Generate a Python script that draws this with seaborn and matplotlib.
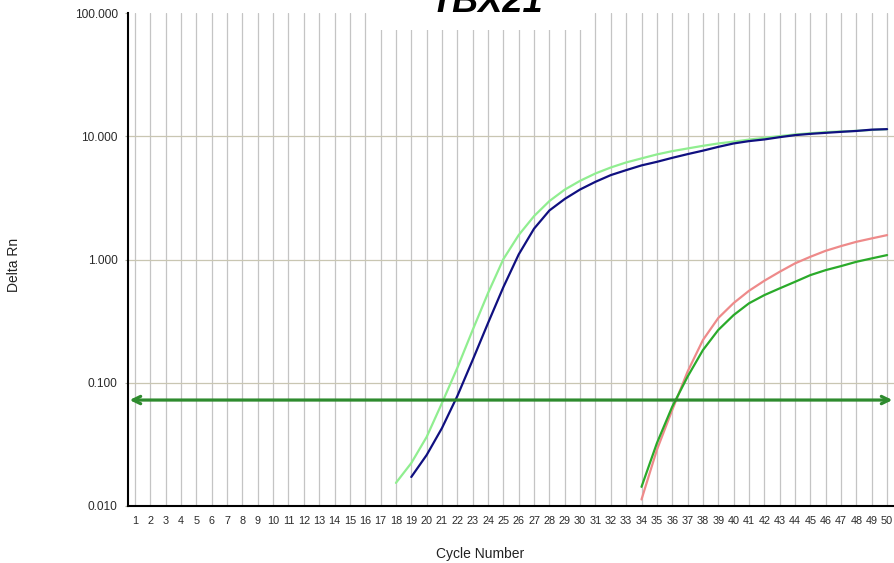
import matplotlib
matplotlib.use("Agg")
import matplotlib.pyplot as plt
from matplotlib.patches import Rectangle
import numpy as np
import pandas as pd
import seaborn as sns

# Amplification data (Delta Rn per cycle) for the TBX21 assay
cycles_a = list(range(18, 51))
delta_rn_a = [0.0154, 0.0223, 0.0363, 0.0685, 0.132, 0.268, 0.534, 1.007, 1.58, 2.25,
              2.98, 3.69, 4.35, 4.99, 5.58, 6.13, 6.61, 7.12, 7.57, 7.96,
              8.36, 8.74, 9.04, 9.39, 9.71, 10.02, 10.34, 10.58, 10.80, 10.94,
              11.06, 11.25, 11.42]

cycles_b = list(range(19, 51))
delta_rn_b = [0.0172, 0.0259, 0.0429, 0.0780, 0.153, 0.305, 0.597, 1.10, 1.78, 2.50,
              3.10, 3.70, 4.27, 4.84, 5.31, 5.80, 6.20, 6.68, 7.16, 7.64,
              8.20, 8.74, 9.13, 9.42, 9.83, 10.21, 10.46, 10.66, 10.86, 11.04,
              11.31, 11.42]

cycles_c = list(range(34, 51))
delta_rn_c = [0.0113, 0.0285, 0.0601, 0.123, 0.222, 0.335, 0.443, 0.557, 0.672, 0.795,
              0.930, 1.052, 1.177, 1.285, 1.392, 1.483, 1.577]

cycles_d = list(range(34, 51))
delta_rn_d = [0.0143, 0.0323, 0.0639, 0.112, 0.184, 0.268, 0.354, 0.441, 0.514, 0.583,
              0.659, 0.747, 0.820, 0.884, 0.958, 1.021, 1.086]

threshold = 0.0724

x_tick_values = list(range(1, 51))
y_tick_values = [0.01, 0.1, 1, 10, 100]
y_tick_labels = ["0.010", "0.100", "1.000", "10.000", "100.000"]

wells = ["A", "B", "C", "D"]
palette = {"A": "#90ee90", "B": "#101080", "C": "#ee8a8a", "D": "#2aaa2a"}

frames = []
for well, cyc, val in zip(wells, [cycles_a, cycles_b, cycles_c, cycles_d],
                          [delta_rn_a, delta_rn_b, delta_rn_c, delta_rn_d]):
    frames.append(pd.DataFrame({"Cycle": cyc, "DeltaRn": val, "Well": well}))
data = pd.concat(frames, ignore_index=True)

sns.set_theme(style="white")
plt.rcParams["font.family"] = ["Liberation Sans", "DejaVu Sans"]

fig = plt.figure(figsize=(8.95, 5.63), dpi=100)
ax = fig.add_axes([128 / 895, 1 - 506 / 563, (894 - 128) / 895, (506 - 13) / 563])

sns.lineplot(data=data, x="Cycle", y="DeltaRn", hue="Well", palette=palette,
             hue_order=["A", "C", "D", "B"], linewidth=1.6, legend=False, ax=ax,
             zorder=3)

ax.set_yscale("log")
ax.set_ylim(0.01, 100)
ax.set_xlim(0.544, 50.45)

ax.set_xticks(x_tick_values)
ax.set_xticklabels([str(v) for v in x_tick_values], fontsize=7.8, color="#2a2a2a")
ax.set_yticks(y_tick_values)
ax.set_yticklabels(y_tick_labels, fontsize=8.6, color="#2a2a2a")
ax.yaxis.set_minor_locator(matplotlib.ticker.NullLocator())
ax.tick_params(axis="x", length=0, pad=7)
ax.tick_params(axis="y", length=2.5, width=0.8, color="#b0b0a0", pad=5, left=True)

ax.xaxis.grid(True, color="#c4c4c4", linewidth=0.9)
ax.yaxis.grid(True, color="#c9c6b2", linewidth=0.9)
ax.set_axisbelow(True)
ax.yaxis.get_gridlines()[-1].set_visible(False)

for side in ["top", "right"]:
    ax.spines[side].set_visible(False)
for side in ["left", "bottom"]:
    ax.spines[side].set_color("black")
    ax.spines[side].set_linewidth(1.5)

ax.set_xlabel("")
ax.set_ylabel("")

# Threshold line with arrowheads at both ends
ax.annotate("", xy=(0.002, threshold), xytext=(0.998, threshold),
            xycoords=("axes fraction", "data"), textcoords=("axes fraction", "data"),
            arrowprops=dict(arrowstyle="<->,head_length=0.45,head_width=0.22",
                            color="#2e8b2e", lw=2.3, shrinkA=0, shrinkB=0),
            zorder=4)

fig.text(480 / 895, 1 - 554 / 563, "Cycle Number", ha="center", va="center",
         fontsize=10, color="#222222")
fig.text(14 / 895, 1 - 265 / 563, "Delta Rn", ha="center", va="center",
         rotation=90, fontsize=10, color="#222222")

# Title banner
fig.patches.append(Rectangle((380 / 895, 1 - 30 / 563), (593 - 380) / 895, 30 / 563,
                             transform=fig.transFigure, facecolor="white",
                             edgecolor="none", zorder=5))
fig.text(487 / 895, 1 - 12 / 563, "TBX21", ha="center", va="baseline",
         fontsize=26, fontweight="bold", fontstyle="italic", color="black", zorder=6)

fig.savefig("out.png", dpi=100, facecolor="white")
